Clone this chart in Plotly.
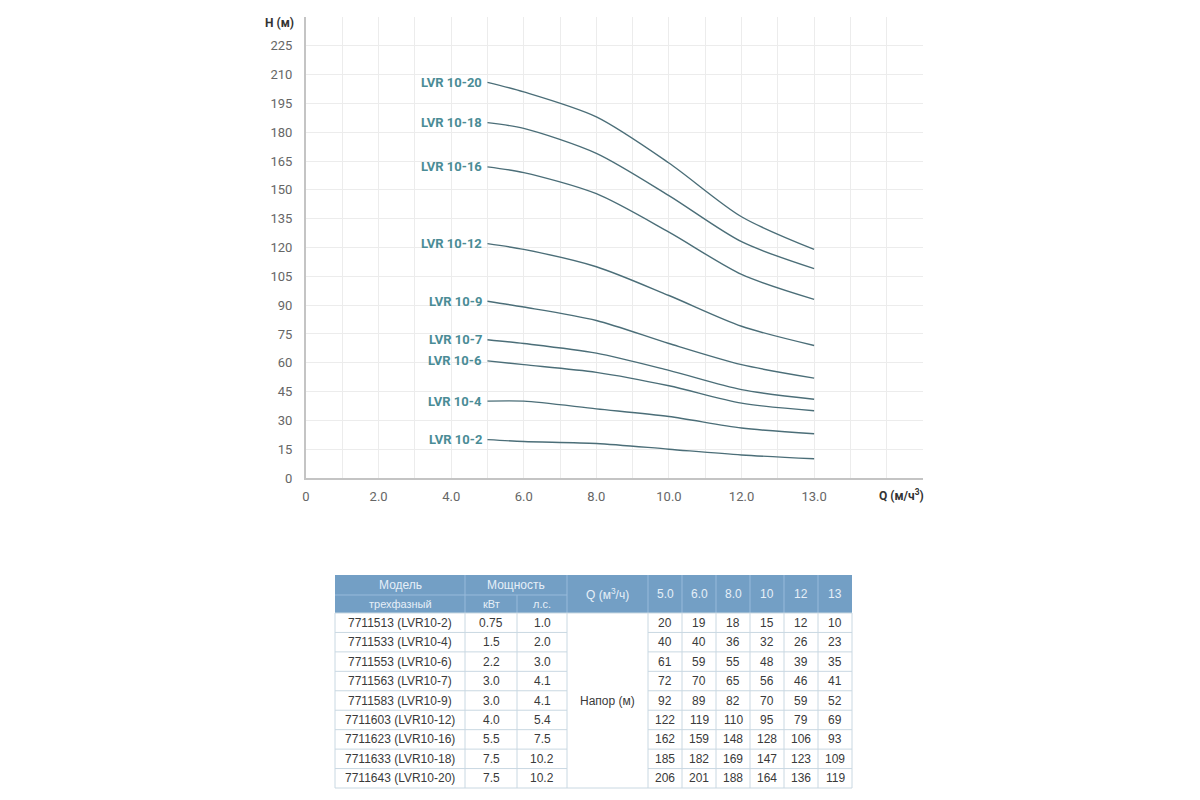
import plotly.graph_objects as go

W, H = 1200, 800
OFF = 8  # the page body adds an 8px margin around the figure

# pump curves: head (m) at each flow rate (m3/h)
flow = [5.0, 6.0, 8.0, 10.0, 12.0, 13.0]
flow_header = ["5.0", "6.0", "8.0", "10", "12", "13"]
models = ["LVR 10-2", "LVR 10-4", "LVR 10-6", "LVR 10-7", "LVR 10-9",
          "LVR 10-12", "LVR 10-16", "LVR 10-18", "LVR 10-20"]
codes = ["7711513 (LVR10-2)", "7711533 (LVR10-4)", "7711553 (LVR10-6)",
         "7711563 (LVR10-7)", "7711583 (LVR10-9)", "7711603 (LVR10-12)",
         "7711623 (LVR10-16)", "7711633 (LVR10-18)", "7711643 (LVR10-20)"]
power_kw = ["0.75", "1.5", "2.2", "3.0", "3.0", "4.0", "5.5", "7.5", "7.5"]
power_hp = ["1.0", "2.0", "3.0", "4.1", "4.1", "5.4", "7.5", "10.2", "10.2"]
head = [
    [20, 19, 18, 15, 12, 10],
    [40, 40, 36, 32, 26, 23],
    [61, 59, 55, 48, 39, 35],
    [72, 70, 65, 56, 46, 41],
    [92, 89, 82, 70, 59, 52],
    [122, 119, 110, 95, 79, 69],
    [162, 159, 148, 128, 106, 93],
    [185, 182, 169, 147, 123, 109],
    [206, 201, 188, 164, 136, 119],
]
x_tick_values = [0, 2, 4, 6, 8, 10, 12, 13]
x_tick_labels = ["0", "2.0", "4.0", "6.0", "8.0", "10.0", "12.0", "13.0"]
y_tick_values = list(range(0, 226, 15))

LINE_COLOR = "#4b6e78"
LABEL_COLOR = "#4a8c96"
GRID = "#ececec"


def q_pos(q):
    # the chart's x scale is linear up to 12, then the last step (12 -> 13) is drawn twice as wide
    return q if q <= 12 else 12 + 2 * (q - 12)


def px(x):
    return (x - OFF) / W


def py(y):
    return 1 - (y - OFF) / H


fig = go.Figure()

for name, values in zip(models, head):
    fig.add_trace(go.Scatter(
        x=[q_pos(q) for q in flow], y=values, mode="lines",
        line=dict(color=LINE_COLOR, width=1.4, shape="spline", smoothing=0.8),
        name=name, showlegend=False, hoverinfo="skip",
    ))
    fig.add_annotation(
        x=q_pos(flow[0]), y=values[0], xref="x", yref="y", text=f"<b>{name}</b>",
        showarrow=False, xanchor="right", yanchor="middle", xshift=-3,
        font=dict(family="Roboto", size=13, color=LABEL_COLOR),
    )

fig.update_xaxes(
    range=[0, 17], tickvals=[q_pos(v) for v in x_tick_values], ticktext=x_tick_labels,
    showgrid=True, gridcolor=GRID, gridwidth=1, zeroline=False,
    minor=dict(tickvals=list(range(1, 18)), showgrid=True, gridcolor=GRID, gridwidth=1, ticks=""),
    showline=True, linecolor="#c4c4c4", linewidth=2, ticks="",
    ticklabelstandoff=5, tickfont=dict(family="Roboto", size=13, color="#666"),
    domain=[px(306), px(923)], automargin=False,
)
fig.update_yaxes(
    range=[0, 240], tickvals=y_tick_values, ticktext=[str(v) for v in y_tick_values],
    showgrid=True, gridcolor=GRID, gridwidth=1, zeroline=False,
    showline=True, linecolor="#c4c4c4", linewidth=2, ticks="",
    ticklabelstandoff=9, tickfont=dict(family="Roboto", size=13, color="#666"),
    domain=[py(478), py(17)], automargin=False,
)

fig.add_annotation(x=px(279), y=py(23), xref="paper", yref="paper", text="<b>H (м)</b>",
                   showarrow=False, xanchor="center", yanchor="middle",
                   font=dict(family="Roboto", size=12, color="#333"))
fig.add_annotation(x=px(901), y=py(495), xref="paper", yref="paper",
                   text="<b>Q (м/ч<sup>3</sup>)</b>", xanchor="center", yanchor="middle",
                   showarrow=False, font=dict(family="Roboto", size=12, color="#333"))

# ---- table ----
col_edges = [335, 465, 517, 567, 648, 682, 716, 750, 784, 818, 852]
top, mid, hbot = 575, 595, 613
row_h = (788 - hbot) / len(codes)
HEAD_FILL = "#739fc5"
HEAD_LINE = "#98badb"
HEAD_TEXT = "#e6eff8"
CELL_LINE = "#c9d8e2"
CELL_TEXT = "#3a3a3a"
TFONT = "Liberation Sans"

shapes = []


def line(x0, y0, x1, y1, color, width=1):
    shapes.append(dict(type="line", xref="paper", yref="paper",
                       x0=px(x0), y0=py(y0), x1=px(x1), y1=py(y1),
                       line=dict(color=color, width=width), layer="above"))


def text(x, y, s, color, size=12):
    fig.add_annotation(x=px(x), y=py(y), xref="paper", yref="paper", text=s,
                       showarrow=False, xanchor="center", yanchor="middle",
                       font=dict(family=TFONT, size=size, color=color))


shapes.append(dict(type="rect", xref="paper", yref="paper", x0=px(col_edges[0]), x1=px(col_edges[-1]),
                   y0=py(hbot), y1=py(top), fillcolor=HEAD_FILL, line=dict(width=0), layer="below"))
line(col_edges[0], mid, col_edges[3], mid, HEAD_LINE)
for i, x in enumerate(col_edges[1:-1], start=1):
    if i == 2:
        line(x, mid, x, hbot, HEAD_LINE)
    else:
        line(x, top, x, hbot, HEAD_LINE)

for i in range(len(codes) + 1):
    y = hbot + i * row_h
    if i in (0, len(codes)):
        line(col_edges[0], y, col_edges[-1], y, CELL_LINE)
    else:
        line(col_edges[0], y, col_edges[3], y, CELL_LINE)
        line(col_edges[4], y, col_edges[-1], y, CELL_LINE)
for x in col_edges:
    line(x, hbot, x, 788, CELL_LINE)


def cx(i):
    return (col_edges[i] + col_edges[i + 1]) / 2


text(cx(0), (top + mid) / 2, "Модель", HEAD_TEXT)
text(cx(0), (mid + hbot) / 2, "трехфазный", HEAD_TEXT, 11)
text((col_edges[1] + col_edges[3]) / 2, (top + mid) / 2, "Мощность", HEAD_TEXT)
text(cx(1), (mid + hbot) / 2, "кВт", HEAD_TEXT, 11)
text(cx(2), (mid + hbot) / 2, "л.с.", HEAD_TEXT, 11)
text(cx(3), (top + hbot) / 2, "Q (м<sup>3</sup>/ч)", HEAD_TEXT)
for j, lab in enumerate(flow_header):
    text(cx(4 + j), (top + hbot) / 2, lab, HEAD_TEXT)

for r, (code, kw, hp, vals) in enumerate(zip(codes, power_kw, power_hp, head)):
    y = hbot + (r + 0.5) * row_h
    text(cx(0), y, code, CELL_TEXT)
    text(cx(1), y, kw, CELL_TEXT)
    text(cx(2), y, hp, CELL_TEXT)
    for j, v in enumerate(vals):
        text(cx(4 + j), y, str(v), CELL_TEXT)
text(cx(3), hbot + (len(codes) / 2) * row_h, "Напор (м)", CELL_TEXT)

fig.update_layout(
    width=W, height=H, margin=dict(l=0, r=0, t=0, b=0),
    paper_bgcolor="white", plot_bgcolor="white",
    shapes=shapes, showlegend=False,
)

fig.write_html("out.html")
